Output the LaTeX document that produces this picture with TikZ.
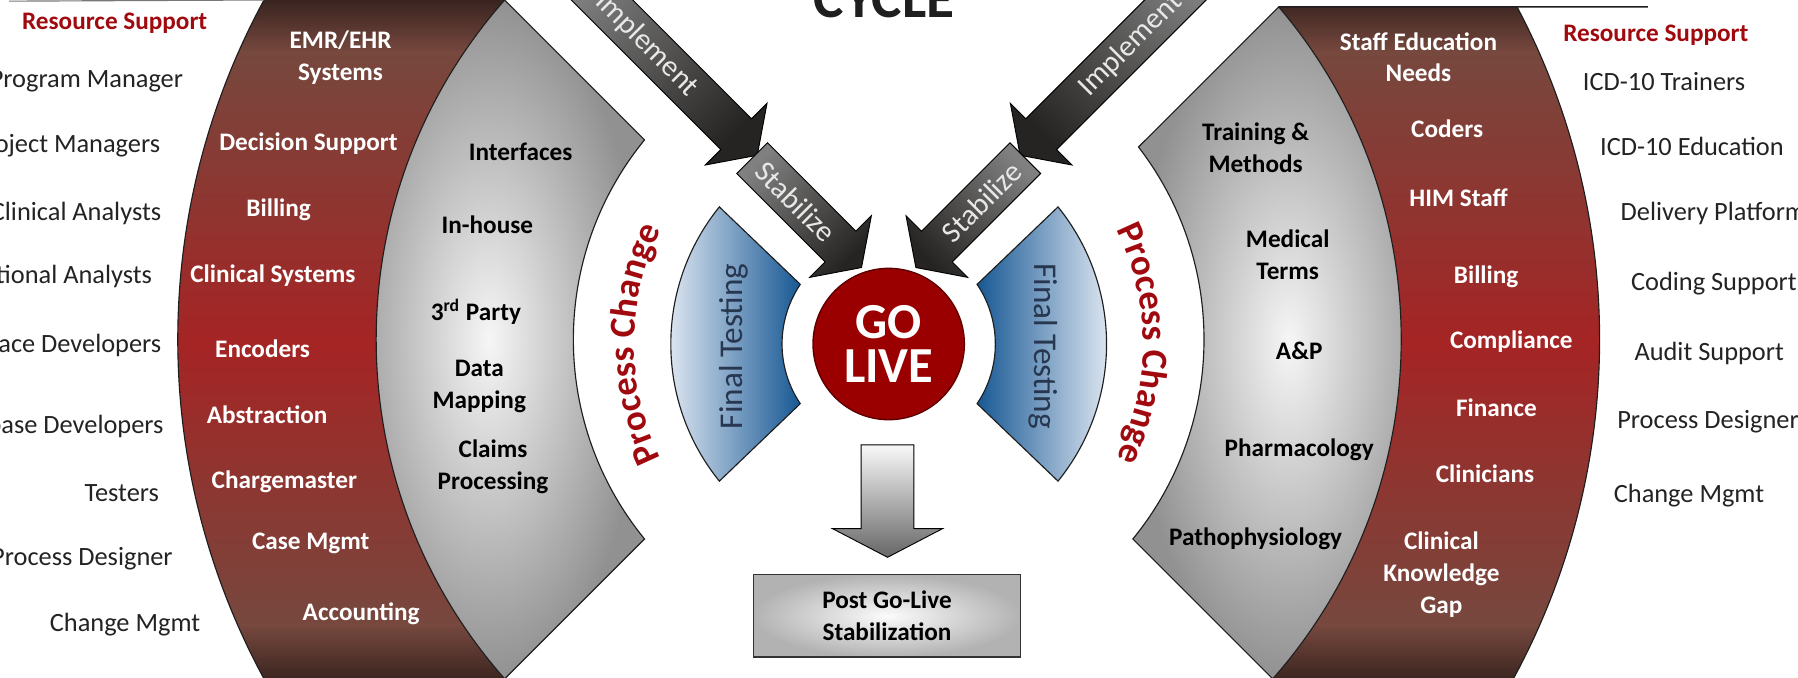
\documentclass[tikz,border=0pt]{standalone}
\usepackage{fontspec}
\setmainfont{Carlito}
\usepackage{tikz}
\usetikzlibrary{shapes,arrows,positioning,decorations.text}
\definecolor{bandDark}{RGB}{50,32,28}
\definecolor{bandBrown}{RGB}{118,72,62}
\definecolor{bandRed}{RGB}{165,36,36}
\definecolor{bandLine}{RGB}{30,30,30}
\definecolor{wedgeLight}{RGB}{246,246,246}
\definecolor{wedgeDark}{RGB}{145,145,145}
\definecolor{blueDark}{RGB}{24,88,148}
\definecolor{blueLight}{RGB}{242,245,251}
\definecolor{goRed}{RGB}{155,0,0}
\definecolor{pcRed}{RGB}{160,10,15}
\definecolor{arrLight}{RGB}{128,128,128}
\definecolor{arrDark}{RGB}{38,36,34}
\definecolor{arrText}{RGB}{232,232,232}
\definecolor{lblGray}{RGB}{35,35,35}
\definecolor{testBlue}{RGB}{40,55,80}
\newcommand{\pcfont}{\bfseries\color{pcRed}\fontsize{16}{16}\selectfont}
\tikzstyle{band} = [draw=bandLine, line width=0.5pt]
\tikzstyle{wedge} = [draw=bandLine, line width=0.5pt, inner color=wedgeLight, outer color=wedgeDark]
\tikzstyle{testpiece} = [draw=bandLine, line width=0.5pt]
\tikzstyle{blockarrow} = [draw=black, line width=0.4pt]
\tikzstyle{golive} = [circle, draw=goRed!60!black, line width=0.6pt, fill=goRed, text=white, minimum size=66pt, inner sep=0pt, align=center, font=\bfseries\fontsize{22}{19}\selectfont]
\tikzstyle{postbox} = [draw=black!80, line width=0.6pt, inner color=gray!3, outer color=gray!60, minimum width=116.5pt, minimum height=36pt, align=center, font=\bfseries\fontsize{11}{14}\selectfont]
\tikzstyle{bandtxt} = [text=white, align=center, inner sep=0pt, font=\bfseries\fontsize{11}{13.8}\selectfont]
\tikzstyle{wedgetxt} = [text=black, align=center, inner sep=0pt, font=\bfseries\fontsize{11}{13.8}\selectfont]
\tikzstyle{sidelbl} = [text=lblGray, inner sep=0pt, font=\fontsize{11.5}{13}\selectfont]
\tikzstyle{rsup} = [text=pcRed, inner sep=0pt, font=\bfseries\fontsize{11}{13}\selectfont]
\tikzstyle{arrtxt} = [text=arrText, inner sep=0pt, font=\fontsize{13}{13}\selectfont]
\tikzstyle{testtxt} = [text=testBlue, inner sep=0pt, font=\fontsize{14.5}{15}\selectfont]

\begin{document}
\begin{tikzpicture}[x=0.5pt, y=-0.5pt]
\useasboundingbox (0,0) rectangle (1568,591);
\clip (0,0) rectangle (1568,591);

% centres ================================
\coordinate (ctr) at (775,296);
\coordinate (go) at (775,300);
\path (ctr) ++(208.52:620) coordinate (lbOutTop)
      (ctr) ++(138.53:447) coordinate (lbInBot)
      (ctr) ++(221.47:447) coordinate (lwApex)
      (ctr) ++(219.25:275) coordinate (lwTop)
      (ctr) ++(-27.89:620) coordinate (rbOutTop)
      (ctr) ++(41.47:447) coordinate (rbInBot)
      (ctr) ++(-40.45:447) coordinate (rwApex)
      (ctr) ++(-37.6:275) coordinate (rwTop)
      (go) ++(219:190) coordinate (ltOut)
      (go) ++(146:93) coordinate (ltIn)
      (go) ++(-39:190) coordinate (rtOut)
      (go) ++(34:93) coordinate (rtIn);

% red bands ==============================
\begin{scope}
\clip (lbOutTop) arc[start angle=208.52, end angle=151.48, radius=620] -- (lbInBot) arc[start angle=138.53, end angle=221.47, radius=447] -- cycle
      (rbOutTop) arc[start angle=-27.89, end angle=28.52, radius=620] -- (rbInBot) arc[start angle=41.47, end angle=-40.45, radius=447] -- cycle;
\shade[top color=bandDark, bottom color=bandBrown] (100,-5) rectangle (1500,45);
\shade[top color=bandBrown, bottom color=bandRed] (100,45) rectangle (1500,300);
\shade[top color=bandRed, bottom color=bandBrown] (100,300) rectangle (1500,545);
\shade[top color=bandBrown, bottom color=bandDark] (100,545) rectangle (1500,600);
\end{scope}
\draw[band] (lbOutTop) arc[start angle=208.52, end angle=151.48, radius=620];
\draw[band] (rbOutTop) arc[start angle=-27.89, end angle=28.52, radius=620];
\draw[bandLine!60, line width=0.5pt] (8,1) -- (lbOutTop);
\draw[bandLine, line width=0.6pt] (rwApex) -- (1437,6);

% gray wedges ============================
\draw[wedge] (lwApex) -- (lwTop) arc[start angle=219.25, end angle=140.75, radius=275] -- (lbInBot) arc[start angle=138.53, end angle=221.47, radius=447] -- cycle;
\draw[wedge] (rwApex) -- (rwTop) arc[start angle=-37.6, end angle=39.25, radius=275] -- (rbInBot) arc[start angle=41.47, end angle=-40.45, radius=447] -- cycle;

% final testing pieces ===================
\draw[testpiece, left color=blueLight, right color=blueDark] (ltOut) arc[start angle=219, end angle=141, radius=190] -- (ltIn) arc[start angle=146, end angle=214, radius=93] -- cycle;
\draw[testpiece, left color=blueDark, right color=blueLight] (rtOut) arc[start angle=-39, end angle=39, radius=190] -- (rtIn) arc[start angle=34, end angle=-34, radius=93] -- cycle;
\node[testtxt, rotate=90] (ftL) at (640,302) {Final Testing};
\node[testtxt, rotate=-90] (ftR) at (910,302) {Final Testing};

% process change =========================
\path[decorate, decoration={text along path, text align=center, text={|\pcfont|Process Change}}]
  (go) ++(146:222) arc[start angle=146, end angle=214, radius=222];
\path[decorate, decoration={text along path, text align=center, text={|\pcfont|Process Change}}]
  (go) ++(-34:222) arc[start angle=-34, end angle=34, radius=222];

% implement / stabilize arrows ===========
\draw[blockarrow, top color=arrLight, bottom color=arrDark, shading angle=45]
  (510.4,-41.4) -- (655.4,103.6) -- (668.9,90.1) -- (660.4,135.4) -- (615.1,143.9) -- (628.6,130.4) -- (483.6,-14.6) -- cycle;
\draw[blockarrow, top color=arrLight, bottom color=arrDark, shading angle=45]
  (669.3,124.5) -- (746.4,201.6) -- (759.9,188.1) -- (751.3,233.3) -- (706.1,241.9) -- (719.6,228.4) -- (642.5,151.3) -- cycle;
\draw[blockarrow, top color=arrLight, bottom color=arrDark, shading angle=-45]
  (1039.6,-41.4) -- (894.6,103.6) -- (881.1,90.1) -- (889.6,135.4) -- (934.9,143.9) -- (921.4,130.4) -- (1066.4,-14.6) -- cycle;
\draw[blockarrow, top color=arrLight, bottom color=arrDark, shading angle=-45]
  (880.7,124.5) -- (803.6,201.6) -- (790.1,188.1) -- (798.7,233.3) -- (843.9,241.9) -- (830.4,228.4) -- (907.5,151.3) -- cycle;
\node[arrtxt, rotate=-45] (implL) at (564,39) {Implement};
\node[arrtxt, rotate=-45] (stabL) at (694,176) {Stabilize};
\node[arrtxt, rotate=45] (implR) at (986,39) {Implement};
\node[arrtxt, rotate=45] (stabR) at (856,176) {Stabilize};

% go live and post go-live ===============
\node[golive] (golive) at (go) {GO\\LIVE};
\draw[blockarrow, top color=gray!5, bottom color=gray!80!black]
  (751,388) -- (797,388) -- (797,461) -- (822,461) -- (774,486) -- (726,461) -- (751,461) -- cycle;
\node[postbox] (post) at (773.5,537) {Post Go-Live\\Stabilization};

% title
\node[font=\bfseries\fontsize{25}{25}\selectfont, text=black!88, anchor=base] (cycle) at (771,15) {CYCLE};

% left side labels =======================
\node[rsup] (rsL) at (100,20) {Resource Support};
\node[sidelbl, anchor=east] (l1) at (160,71) {Program Manager};
\node[sidelbl, anchor=east] (l2) at (140,127) {Project Managers};
\node[sidelbl, anchor=east] (l3) at (141,186) {Clinical Analysts};
\node[sidelbl, anchor=east] (l4) at (133,241) {Functional Analysts};
\node[sidelbl, anchor=east] (l5) at (141,301) {Interface Developers};
\node[sidelbl, anchor=east] (l6) at (143,372) {Database Developers};
\node[sidelbl, anchor=east] (l7) at (139,430) {Testers};
\node[sidelbl, anchor=east] (l8) at (151,487) {Process Designer};
\node[sidelbl, anchor=east] (l9) at (175,545) {Change Mgmt};

% left red band
\node[bandtxt] (lb1) at (297,50) {EMR/EHR\\Systems};
\node[bandtxt] (lb2) at (269,125) {Decision Support};
\node[bandtxt] (lb3) at (243,183) {Billing};
\node[bandtxt] (lb4) at (238,240) {Clinical Systems};
\node[bandtxt] (lb5) at (229,304) {Encoders};
\node[bandtxt] (lb6) at (233,362) {Abstraction};
\node[bandtxt] (lb7) at (248,420) {Chargemaster};
\node[bandtxt] (lb8) at (271,474) {Case Mgmt};
\node[bandtxt] (lb9) at (315,535) {Accounting};

% left gray wedge
\node[wedgetxt] (lw1) at (454,132) {Interfaces};
\node[wedgetxt] (lw2) at (425,196) {In-house};
\node[wedgetxt] (lw3) at (415,272) {3\textsuperscript{rd} Party};
\node[wedgetxt] (lw4) at (418,337) {Data\\Mapping};
\node[wedgetxt] (lw5) at (430,407) {Claims\\Processing};

% right gray wedge
\node[wedgetxt] (rw1) at (1095,129) {Training \&\\Methods};
\node[wedgetxt] (rw2) at (1123,222) {Medical\\Terms};
\node[wedgetxt] (rw3) at (1133,306) {A\&P};
\node[wedgetxt] (rw4) at (1133,392) {Pharmacology};
\node[wedgetxt] (rw5) at (1095,470) {Pathophysiology};

% right red band
\node[bandtxt] (rb1) at (1237,50) {Staff Education\\Needs};
\node[bandtxt] (rb2) at (1262,112) {Coders};
\node[bandtxt] (rb3) at (1272,172) {HIM Staff};
\node[bandtxt] (rb4) at (1296,241) {Billing};
\node[bandtxt] (rb5) at (1318,298) {Compliance};
\node[bandtxt] (rb6) at (1305,356) {Finance};
\node[bandtxt] (rb7) at (1295,413) {Clinicians};
\node[bandtxt] (rb8) at (1257,501) {Clinical\\Knowledge\\Gap};

% right side labels ======================
\node[rsup] (rsR) at (1444,31) {Resource Support};
\node[sidelbl, anchor=west] (r1) at (1380,71) {ICD-10 Trainers};
\node[sidelbl, anchor=west] (r2) at (1395,128) {ICD-10 Education};
\node[sidelbl, anchor=west] (r3) at (1413,186) {Delivery Platform};
\node[sidelbl, anchor=west] (r4) at (1422,247) {Coding Support};
\node[sidelbl, anchor=west] (r5) at (1425,308) {Audit Support};
\node[sidelbl, anchor=west] (r6) at (1410,368) {Process Designer};
\node[sidelbl, anchor=west] (r7) at (1407,432) {Change Mgmt};

\end{tikzpicture}
\end{document}
